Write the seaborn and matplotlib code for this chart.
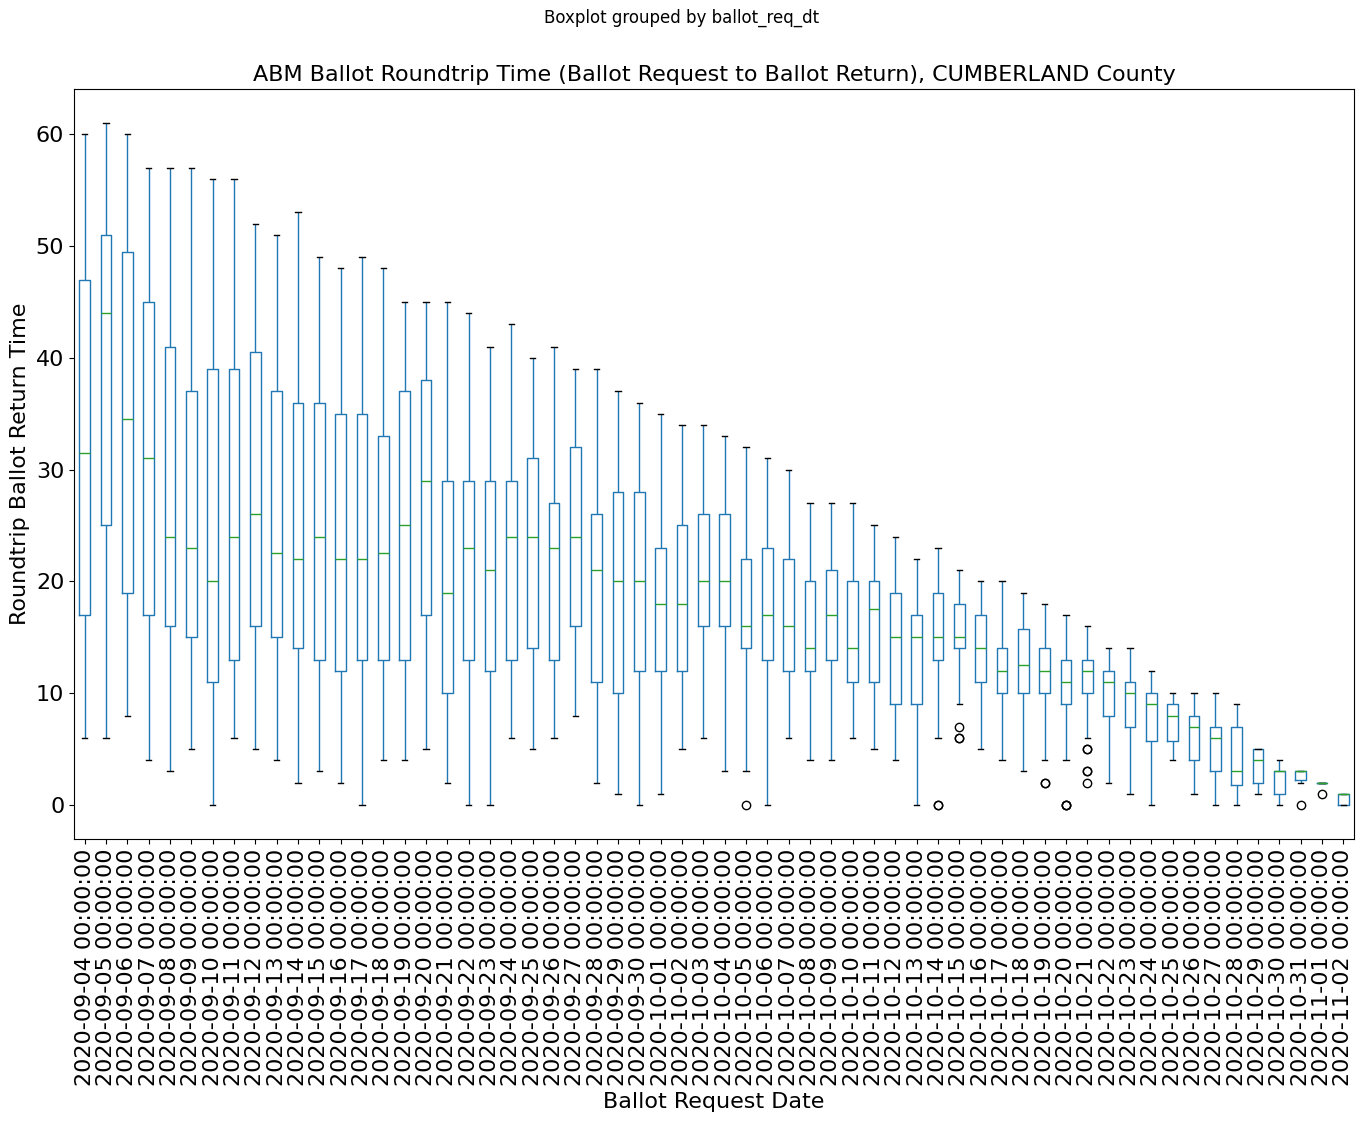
import numpy as np
import pandas as pd
import seaborn as sns
import matplotlib
matplotlib.use('Agg')
import matplotlib.pyplot as plt

# request dates (one box per day)
dates = pd.date_range('2020-09-04', '2020-11-02').strftime('%Y-%m-%d %H:%M:%S').tolist()

# box stats (days)
whis_lo = [6, 6, 8, 4, 3, 5, 0, 6, 5, 4, 2, 3, 2, 0, 4, 4, 5, 2, 0, 0,
           6, 5, 6, 8, 2, 1, 0, 1, 5, 6, 3, 3, 0, 6, 4, 4, 6, 5, 4, 0,
           6, 9, 5, 4, 3, 4, 4, 6, 2, 1, 0, 4, 1, 0, 0, 1, 0, 2, 2, 0]
q1 = [17, 25, 19, 17, 16, 15, 11, 13, 16, 15, 14, 13, 12, 13, 13, 13, 17, 10, 13, 12,
      13, 14, 13, 16, 11, 10, 12, 12, 12, 16, 16, 14, 13, 12, 12, 13, 11, 11, 9, 9,
      13, 14, 11, 10, 10, 10, 9, 10, 8, 7, 5.75, 5.75, 4, 3, 1.75, 2, 1, 2.25, 2, 0]
med = [31.5, 44, 34.5, 31, 24, 23, 20, 24, 26, 22.5, 22, 24, 22, 22, 22.5, 25, 29, 19, 23, 21,
       24, 24, 23, 24, 21, 20, 20, 18, 18, 20, 20, 16, 17, 16, 14, 17, 14, 17.5, 15, 15,
       15, 15, 14, 12, 12.5, 12, 11, 12, 11, 10, 9, 8, 7, 6, 3, 4, 3, 3, 2, 1]
q3 = [47, 51, 49.5, 45, 41, 37, 39, 39, 40.5, 37, 36, 36, 35, 35, 33, 37, 38, 29, 29, 29,
      29, 31, 27, 32, 26, 28, 28, 23, 25, 26, 26, 22, 23, 22, 20, 21, 20, 20, 19, 17,
      19, 18, 17, 14, 15.75, 14, 13, 13, 12, 11, 10, 9, 8, 7, 7, 5, 3, 3, 2, 1]
whis_hi = [60, 61, 60, 57, 57, 57, 56, 56, 52, 51, 53, 49, 48, 49, 48, 45, 45, 45, 44, 41,
           43, 40, 41, 39, 39, 37, 36, 35, 34, 34, 33, 32, 31, 30, 27, 27, 27, 25, 24, 22,
           23, 21, 20, 20, 19, 18, 17, 16, 14, 14, 12, 10, 10, 10, 9, 5, 4, 3, 2, 1]

# outliers (date, value); repeated values overlap on the chart
flier_dates = ['2020-10-05', '2020-10-14', '2020-10-14', '2020-10-15', '2020-10-15', '2020-10-15',
               '2020-10-19', '2020-10-19', '2020-10-20', '2020-10-20', '2020-10-20',
               '2020-10-21', '2020-10-21', '2020-10-21', '2020-10-21', '2020-10-21',
               '2020-10-31', '2020-11-01']
flier_vals = [0, 0, 0, 7, 6, 6,
              2, 2, 0, 0, 0,
              5, 5, 3, 3, 2,
              0, 1]


def sample_for(lo, a, m, b, hi, lows, highs):
    # sample of 4k+1 values whose quartiles land exactly on a, m, b
    k = max(len(lows), len(highs)) + 1
    low = sorted(lows) + [lo] + [a] * (k - len(lows))
    mid = [m] * k
    upper = [b] * k
    top = [b] * (k - 1 - len(highs)) + [hi] + sorted(highs)
    return low + mid + upper + top


rows = []
for i, d in enumerate(dates):
    outs = [v for fd, v in zip(flier_dates, flier_vals) if d.startswith(fd)]
    lows = [v for v in outs if v < q1[i]]
    highs = [v for v in outs if v > q3[i]]
    for v in sample_for(whis_lo[i], q1[i], med[i], q3[i], whis_hi[i], lows, highs):
        rows.append((d, v))
df = pd.DataFrame(rows, columns=['ballot_req_dt', 'roundtrip'])

fig = plt.figure(figsize=(13.63, 11.22), dpi=100)
ax = fig.add_subplot(111)
fig.subplots_adjust(left=0.0543, right=0.9934, bottom=0.2522, top=0.9207)

sns.boxplot(data=df, x='ballot_req_dt', y='roundtrip', order=dates, ax=ax,
            fill=False, width=0.5, whis=1.5, linewidth=1.0, fliersize=6,
            boxprops=dict(color='#1f77b4'),
            medianprops=dict(color='#2ca02c'),
            whiskerprops=dict(color='#1f77b4'),
            capprops=dict(color='black'),
            flierprops=dict(marker='o', markeredgecolor='black', markerfacecolor='none'))

fig.suptitle('Boxplot grouped by ballot_req_dt', fontsize=12, y=0.992)
ax.set_title('ABM Ballot Roundtrip Time (Ballot Request to Ballot Return), CUMBERLAND County', fontsize=16)
ax.set_xlabel('Ballot Request Date', fontsize=16)
ax.set_ylabel('Roundtrip Ballot Return Time', fontsize=16)
ax.tick_params(axis='both', labelsize=16)
ax.tick_params(axis='x', labelrotation=90)
ax.set_yticks([0, 10, 20, 30, 40, 50, 60])
ax.grid(False)

fig.savefig('out.png', dpi=100)
